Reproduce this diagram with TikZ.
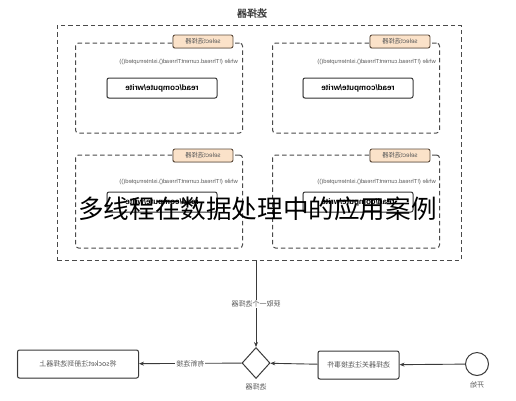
\documentclass[tikz,border=0pt]{standalone}
\usepackage{fontspec}
\usepackage{graphicx}
\setmainfont{Liberation Sans}
\newfontfamily\cjk{Noto Sans CJK SC}
\newfontfamily\cjkb[FakeBold=1.5]{Noto Sans CJK SC}
\usetikzlibrary{arrows.meta,shapes.geometric,shadows}
\newcommand\mir[1]{\scalebox{-1}[1]{#1}}
\definecolor{linec}{HTML}{3A3A3A}
\definecolor{dashc}{HTML}{4A4A4A}
\definecolor{tagf}{HTML}{FBE2C9}
\definecolor{tagb}{HTML}{5E4D3D}
\definecolor{softtext}{HTML}{5A5A5A}
\begin{document}
\begin{tikzpicture}[x=1pt,y=-1pt,
  softshadow/.style={drop shadow={shadow xshift=-0.8pt,shadow yshift=-0.8pt,opacity=0.25}},
  outerbox/.style={draw=dashc, line width=1pt, dash pattern=on 4.5pt off 3pt, inner sep=0},
  innerbox/.style={draw=dashc, line width=1pt, dash pattern=on 4.5pt off 3pt, rounded corners=3pt, minimum width=167pt, inner sep=0},
  tag/.style={draw=tagb, fill=tagf, rounded corners=2pt, line width=0.9pt, minimum width=60pt, minimum height=13pt, inner sep=0, text=softtext, font=\fontsize{6.3}{7}\selectfont, softshadow},
  rcw/.style={draw=linec, fill=white, rounded corners=2pt, line width=1pt, minimum width=110pt, minimum height=20pt, inner sep=0, font=\fontsize{8}{9}\selectfont\bfseries, softshadow},
  whilet/.style={font=\fontsize{5.8}{7}\selectfont, text=softtext, inner sep=0, anchor=east},
  flowbox/.style={draw=linec, fill=white, rounded corners=2pt, line width=1pt, minimum height=28pt, inner sep=0, text=softtext, font=\cjk\fontsize{7}{8}\selectfont, softshadow},
  lbl/.style={font=\cjk\fontsize{7}{8}\selectfont, text=softtext, fill=white, inner sep=1pt},
  arr/.style={draw=linec, line width=0.9pt, -{Stealth[length=5pt,width=4pt]}}
]
\path[use as bounding box] (0,0) rectangle (516,400);

% title and outer container
\node[font=\cjkb\fontsize{10}{12}\selectfont, text=linec] (title) at (252,13) {\mir{选择器}};
\node[outerbox, minimum width=404pt, minimum height=235pt] (outer) at (259,142.5) {};

% four inner selector boxes
\node[innerbox, minimum height=90pt] (tl) at (159,88) {};
\node[innerbox, minimum height=90pt] (tr) at (356,88) {};
\node[innerbox, minimum height=93pt] (bl) at (159,201.5) {};
\node[innerbox, minimum height=93pt] (br) at (356,201.5) {};

\node[tag] (tagtl) at (203,41.5) {\mir{select{\cjk 选择器}}};
\node[tag] (tagtr) at (400,41.5) {\mir{select{\cjk 选择器}}};
\node[tag] (tagbl) at (203,155.5) {\mir{select{\cjk 选择器}}};
\node[tag] (tagbr) at (400,155.5) {\mir{select{\cjk 选择器}}};

\node[whilet] (wtl) at (238,62) {\mir{while (!Thread.currentThread().isInterrupted())}};
\node[whilet] (wtr) at (436,62) {\mir{while (!Thread.currentThread().isInterrupted())}};
\node[whilet] (wbl) at (238,182) {\mir{while (!Thread.currentThread().isInterrupted())}};
\node[whilet] (wbr) at (436,182) {\mir{while (!Thread.currentThread().isInterrupted())}};

\node[rcw] (rtl) at (162,88) {\mir{read/compute/write}};
\node[rcw] (rtr) at (358,88) {\mir{read/compute/write}};
\node[rcw] (rbl) at (162,202) {\mir{read/compute/write}};
\node[rcw] (rbr) at (358,202) {\mir{read/compute/write}};

% bottom flow
\node[circle, draw=linec, line width=1pt, minimum size=23pt, inner sep=0] (start) at (477,364) {};
\node[lbl] (startlbl) at (477,385) {\mir{开始}};
\node[flowbox, minimum width=81pt] (reg) at (358.5,365) {\mir{选择器关注连接事件}};
\node[diamond, draw=linec, line width=1pt, minimum width=28pt, minimum height=31pt, inner sep=0] (dia) at (256,363) {};
\node[lbl] (dialbl) at (256,387) {\mir{选择器}};
\node[flowbox, minimum width=121pt] (sock) at (78,364) {\mir{将socket注册到选择器上}};

\draw[arr] (start) -- (reg);
\draw[arr] (reg) -- (dia);
\draw[arr] (dia) -- node[lbl] (lnew) {\mir{有新连接}} (sock);
\draw[arr] (dia |- outer.south) -- node[lbl] (lget) {\mir{获取一个选择器}} (dia);

% overlay caption
\node[font=\cjk\fontsize{25.6}{28}\selectfont, inner sep=0] (cap) at (257.5,209) {多线程在数据处理中的应用案例};
\end{tikzpicture}
\end{document}
